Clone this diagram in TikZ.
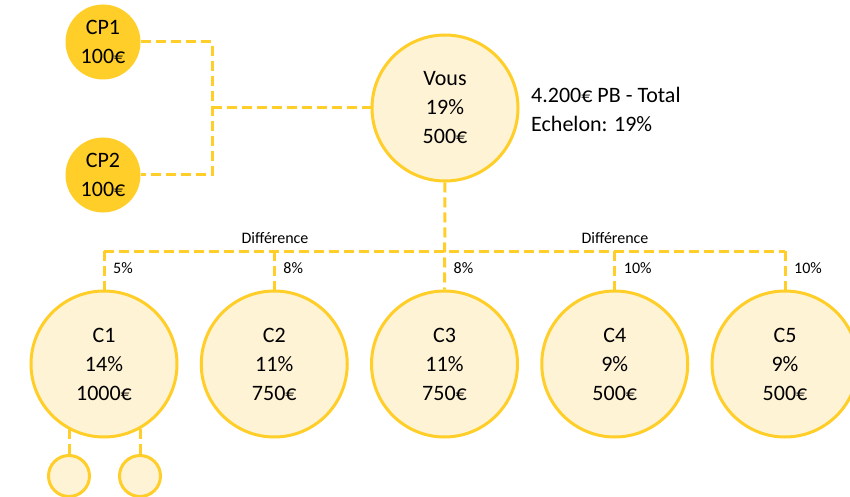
\documentclass[tikz,border=0pt]{standalone}
\usepackage{fontspec}
\setmainfont{Carlito}
\usetikzlibrary{backgrounds}

\definecolor{gold}{RGB}{255,206,41}
\definecolor{cream}{RGB}{255,243,214}

\begin{document}
\begin{tikzpicture}[x=1pt, y=1pt,
every node/.style={%
    inner sep=0pt, text=black
    },
big/.style={circle, draw=gold, line width=3pt, fill=cream, minimum size=146pt,
    align=center, font=\fontsize{22}{29}\selectfont},
parent/.style={circle, fill=gold, minimum size=75pt,
    align=center, font=\fontsize{22}{29}\selectfont},
leaf/.style={circle, draw=gold, line width=3pt, fill=cream, minimum size=41pt},
link/.style={draw=gold, line width=3pt, dash pattern=on 10pt off 5pt},
small/.style={font=\fontsize{16}{18}\selectfont}
]
\useasboundingbox (0,0) rectangle (850,496);

\node[parent] (cp1) at (103,454) {CP1\\100€};
\node[parent] (cp2) at (103,321) {CP2\\100€};
\node[big] (vous) at (445,388) {Vous\\19\%\\500€};
\node[anchor=west, align=left, font=\fontsize{22}{29}\selectfont] (total) at (531,387)
    {4.200€ PB - Total\\Echelon: 19\%};

\foreach \i/\p/\v in {1/14/1000, 2/11/750, 3/11/750, 4/9/500, 5/9/500}
    \node[big] (c\i) at ({104+170.25*(\i-1)},132) {C\i\\\p\%\\\v€};

\node[leaf] (s1) at (69,20) {};
\node[leaf] (s2) at (140,20) {};

\coordinate (j) at (212,388);
\coordinate (bar) at (0,245);

\node[small] (d1) at (275,258) {Différence};
\node[small] (d2) at (615,258) {Différence};
\foreach \i/\d in {1/5, 2/8, 3/8, 4/10, 5/10}
    \node[small, anchor=west] (p\i) at ([xshift=9pt]c\i |- 0,228) {\d\%};

\begin{scope}[on background layer]
\draw[link] (cp1) -| (j) |- (cp2);
\draw[link] (j) -- (vous);
\draw[link] (vous) -- (c3);
\draw[link] (c1 |- bar) -- (c5 |- bar);
\foreach \i in {1,2,4,5}
    \draw[link] (c\i |- bar) -- (c\i);
\foreach \i in {1,2}
    \draw[link] (s\i) -- (s\i |- c1);
\end{scope}

\end{tikzpicture}
\end{document}
